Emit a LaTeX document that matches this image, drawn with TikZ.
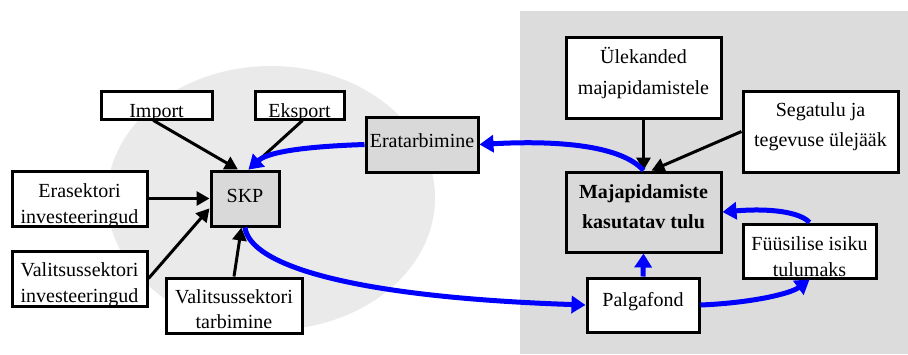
\documentclass[tikz,border=0pt]{standalone}
\usepackage{fontspec}
\setmainfont{Liberation Serif}
\usetikzlibrary{arrows.meta,calc}
\newcommand{\bt}[5]{\vbox to #2{\hsize=#1\relax\parskip=0pt\hyphenpenalty=10000\centering\baselineskip=#4\relax\vskip #3\relax #5\par\vss}}
\newcommand{\sr}{\vrule height 18pt depth 5pt width 0pt}
\definecolor{bgright}{HTML}{DCDCDC}
\definecolor{bgell}{HTML}{EAEAEA}
\definecolor{boxgray}{HTML}{D9D9D9}
\begin{document}
\begin{tikzpicture}[x=1pt,y=-1pt,
  box/.style={draw, line width=3pt, inner sep=0pt, fill=white, font=\fontsize{20}{20}\selectfont},
  graybox/.style={box, fill=boxgray},
  blk/.style={line width=3pt, -{Triangle[length=13pt,width=14pt]}},
  blu/.style={draw=blue, line width=5pt, -{Triangle[length=14pt,width=17pt]}, blue}]
\useasboundingbox (0,0) rectangle (908,354);
\fill[white] (0,0) rectangle (908,354);
\fill[bgright] (520,11) rectangle (908,354);
\fill[bgell] (271,198) ellipse [x radius=164, y radius=132];

\node[box] (imp) at (156.5,105) {\bt{111pt}{28pt}{8pt}{26pt}{\sr Import}};
\node[box] (eks) at (299.5,105) {\bt{89pt}{28pt}{8pt}{26pt}{\sr Eksport}};
\node[box] (era) at (79.5,198.5) {\bt{135pt}{55pt}{8pt}{26pt}{\sr Erasektori\\\sr investeeringud}};
\node[box] (vali) at (79.5,278.5) {\bt{135pt}{55pt}{7.7pt}{25.5pt}{\sr Valitsussektori\\\sr investeeringud}};
\node[graybox] (skp) at (245,198.5) {\bt{68pt}{55pt}{13pt}{26pt}{\sr SKP}};
\node[box] (vt) at (234,305.5) {\bt{136pt}{55pt}{7pt}{25pt}{\sr Valitsussektori\\\sr tarbimine}};
\node[graybox] (erat) at (422,144.5) {\bt{112pt}{55pt}{12.7pt}{26pt}{\sr Eratarbimine}};
\node[box] (ule) at (643.5,77.5) {\bt{155pt}{81pt}{8pt}{31pt}{\sr Ülekanded\\\sr majapidamistele}};
\node[box] (seg) at (820.5,131.5) {\bt{155pt}{81pt}{7.7pt}{30pt}{\sr Segatulu ja\\\sr tegevuse ülejääk}};
\node[graybox, font=\fontsize{20}{20}\selectfont\bfseries] (maj) at (643.5,212) {\bt{155pt}{80pt}{8.3pt}{30pt}{\sr Majapidamiste\\\sr kasutatav tulu}};
\node[box] (fyy) at (809.5,251) {\bt{133pt}{54pt}{8pt}{26.7pt}{\sr Füüsilise isiku\\\sr tulumaks}};
\node[box] (pal) at (643,305) {\bt{112pt}{54pt}{10.7pt}{26pt}{\sr Palgafond}};

% black arrows
\draw[blk] ($(imp.south)+(-3,0)$) -- ($(skp.north west)!0.4!(skp.north east)$);
\draw[blk] ($(eks.south)+(3,0)$) -- ($(skp.north west)!0.55!(skp.north east)$);
\draw[blk] (era.east) -- (skp.west);
\draw[blk] (vali.east) -- ($(skp.south west)!0.33!(skp.north west)$);
\draw[blk] (vt.north) -- ($(skp.south west)!0.45!(skp.south east)$);
\draw[blk] (ule.south) -- (maj.north);
\draw[blk] (seg.west) -- ($(maj.north)+(8,0)$);

% blue arrows
\draw[blu] (maj.north) .. controls (622,146) and (560,140) .. (erat.east);
\draw[blu] (erat.west) .. controls (320,146) and (270,150) .. ($(skp.north west)!0.55!(skp.north east)$);
\draw[blu] (skp.south) .. controls (250,265) and (350,297) .. (pal.west);
\draw[blu] (pal.north) -- (maj.south);
\draw[blu] (pal.east) .. controls (750,303) and (790,294) .. (fyy.south);
\draw[blu] (fyy.north) .. controls (800,212) and (770,208) .. (maj.east);
\end{tikzpicture}
\end{document}
